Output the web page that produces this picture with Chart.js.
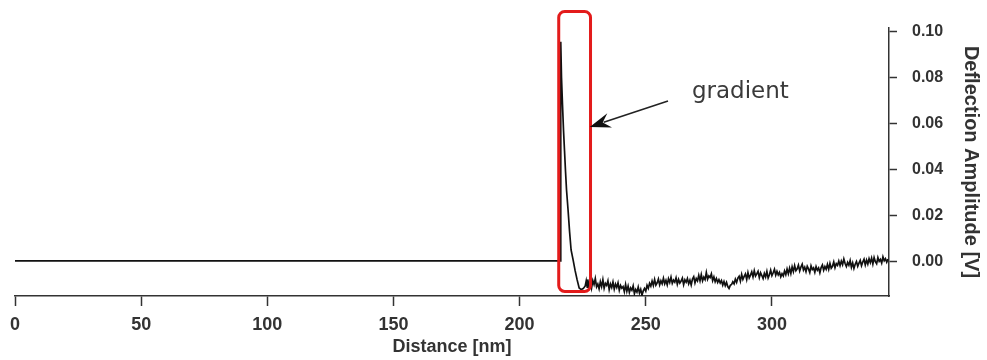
<!DOCTYPE html>
<html>
<head>
<meta charset="utf-8">
<title>Deflection Amplitude</title>
<script src="https://cdn.jsdelivr.net/npm/chart.js@4.4.1/dist/chart.umd.min.js"></script>
<style>
  body { margin: 0; background: #fff; }
  canvas { display: block; }
</style>
</head>
<body>
<canvas id="deflectionChart" width="987" height="360"></canvas>
<script>
'use strict';

// distance in nm, deflection in V
const distanceNm = [
  0, 216.2, 216.3, 216.6, 217.0, 217.4, 217.8, 218.2, 218.6, 219.2, 219.8,
  220.4, 221.2, 222.0, 222.8, 223.6, 224.4, 225.2, 226.0, 226.4, 226.8,
  227, 227.5, 228, 228.5, 229, 229.5, 230, 230.5, 231, 231.5,
  232, 232.5, 233, 233.5, 234, 234.5, 235, 235.5, 236, 236.5,
  237, 237.5, 238, 238.5, 239, 239.5, 240, 240.5, 241, 241.5,
  242, 242.5, 243, 243.5, 244, 244.5, 245, 245.5, 246, 246.5,
  247, 247.5, 248, 248.5, 249, 249.5, 250, 250.5, 251, 251.5,
  252, 252.5, 253, 253.5, 254, 254.5, 255, 255.5, 256, 256.5,
  257, 257.5, 258, 258.5, 259, 259.5, 260, 260.5, 261, 261.5,
  262, 262.5, 263, 263.5, 264, 264.5, 265, 265.5, 266, 266.5,
  267, 267.5, 268, 268.5, 269, 269.5, 270, 270.5, 271, 271.5,
  272, 272.5, 273, 273.5, 274, 274.5, 275, 275.5, 276, 276.5,
  277, 277.5, 278, 278.5, 279, 279.5, 280, 280.5, 281, 281.5,
  282, 282.5, 283, 283.5, 284, 284.5, 285, 285.5, 286, 286.5,
  287, 287.5, 288, 288.5, 289, 289.5, 290, 290.5, 291, 291.5,
  292, 292.5, 293, 293.5, 294, 294.5, 295, 295.5, 296, 296.5,
  297, 297.5, 298, 298.5, 299, 299.5, 300, 300.5, 301, 301.5,
  302, 302.5, 303, 303.5, 304, 304.5, 305, 305.5, 306, 306.5,
  307, 307.5, 308, 308.5, 309, 309.5, 310, 310.5, 311, 311.5,
  312, 312.5, 313, 313.5, 314, 314.5, 315, 315.5, 316, 316.5,
  317, 317.5, 318, 318.5, 319, 319.5, 320, 320.5, 321, 321.5,
  322, 322.5, 323, 323.5, 324, 324.5, 325, 325.5, 326, 326.5,
  327, 327.5, 328, 328.5, 329, 329.5, 330, 330.5, 331, 331.5,
  332, 332.5, 333, 333.5, 334, 334.5, 335, 335.5, 336, 336.5,
  337, 337.5, 338, 338.5, 339, 339.5, 340, 340.5, 341, 341.5,
  342, 342.5, 343, 343.5, 344, 344.5, 345, 345.5, 346
];
const deflectionV = [
  0.0003, 0.0003, 0.0955, 0.0800, 0.0680, 0.0570, 0.0480, 0.0390, 0.0310, 0.0224, 0.0130,
  0.0050, 0.0007, -0.0040, -0.0080, -0.0115, -0.0122, -0.0118, -0.0106, -0.0084, -0.0112,
  -0.0078, -0.0109, -0.0087, -0.0116, -0.0083, -0.0100, -0.0074, -0.0110, -0.0098, -0.0119,
  -0.0088, -0.0109, -0.0079, -0.0116, -0.0095, -0.0104, -0.0084, -0.0122, -0.0098, -0.0113,
  -0.0089, -0.0120, -0.0098, -0.0113, -0.0093, -0.0125, -0.0104, -0.0116, -0.0109, -0.0131,
  -0.0100, -0.0129, -0.0107, -0.0134, -0.0115, -0.0125, -0.0106, -0.0140, -0.0122, -0.0133,
  -0.0111, -0.0137, -0.0121, -0.0146, -0.0128, -0.0117, -0.0129, -0.0104, -0.0117, -0.0095,
  -0.0107, -0.0085, -0.0104, -0.0078, -0.0103, -0.0093, -0.0076, -0.0102, -0.0084, -0.0097,
  -0.0073, -0.0097, -0.0082, -0.0102, -0.0075, -0.0091, -0.0068, -0.0095, -0.0081, -0.0090,
  -0.0071, -0.0099, -0.0078, -0.0094, -0.0085, -0.0072, -0.0101, -0.0080, -0.0090, -0.0074,
  -0.0097, -0.0081, -0.0102, -0.0076, -0.0066, -0.0093, -0.0074, -0.0084, -0.0060, -0.0084,
  -0.0057, -0.0084, -0.0068, -0.0079, -0.0048, -0.0077, -0.0063, -0.0070, -0.0054, -0.0083,
  -0.0067, -0.0088, -0.0074, -0.0091, -0.0079, -0.0093, -0.0083, -0.0103, -0.0087, -0.0105,
  -0.0091, -0.0109, -0.0117, -0.0104, -0.0100, -0.0088, -0.0097, -0.0077, -0.0091, -0.0072,
  -0.0064, -0.0085, -0.0056, -0.0078, -0.0065, -0.0054, -0.0078, -0.0048, -0.0071, -0.0059,
  -0.0045, -0.0067, -0.0040, -0.0063, -0.0054, -0.0043, -0.0070, -0.0049, -0.0061, -0.0074,
  -0.0052, -0.0067, -0.0043, -0.0072, -0.0058, -0.0038, -0.0061, -0.0049, -0.0034, -0.0059,
  -0.0043, -0.0058, -0.0047, -0.0067, -0.0053, -0.0063, -0.0041, -0.0057, -0.0033, -0.0053,
  -0.0029, -0.0052, -0.0023, -0.0044, -0.0018, -0.0040, -0.0032, -0.0016, -0.0041, -0.0024,
  -0.0012, -0.0037, -0.0025, -0.0044, -0.0021, -0.0032, -0.0048, -0.0019, -0.0035, -0.0028,
  -0.0047, -0.0022, -0.0038, -0.0028, -0.0049, -0.0026, -0.0015, -0.0038, -0.0022, -0.0034,
  -0.0013, -0.0034, -0.0008, -0.0029, -0.0021, -0.0002, -0.0027, -0.0009, -0.0017, 0.0002,
  -0.0018, 0.0002, -0.0014, 0.0011, -0.0009, -0.0022, -0.0004, -0.0016, 0.0004, -0.0025,
  -0.0006, -0.0030, -0.0012, 0.0000, -0.0021, -0.0007, 0.0005, -0.0018, -0.0002, 0.0010,
  -0.0015, 0.0006, -0.0011, 0.0012, -0.0005, 0.0015, -0.0011, 0.0017, -0.0001, -0.0010,
  0.0017, 0.0001, 0.0009, -0.0007, 0.0020, 0.0003, 0.0012, -0.0003, 0.0010
];

const xTicks = [0, 50, 100, 150, 200, 250, 300];
const yTicks = [0.00, 0.02, 0.04, 0.06, 0.08, 0.10];

// annotation: red box around the steep part, arrow + label
const boxNm = [215.5, 228.1];
const boxV = [0.1087, -0.0130];
const arrowFrom = [258.8, 0.0698];
const arrowTo = [227.8, 0.0585];
const noteAt = [268.3, 0.0711];
const noteText = 'gradient';

const axisColor = '#333';
const textFont = "'Liberation Sans', Arial, sans-serif";

const annotationPlugin = {
  id: 'gradientNote',
  afterDatasetsDraw(chart) {
    const ctx = chart.ctx;
    const sx = chart.scales.x;
    const sy = chart.scales.y;
    ctx.save();

    // red rounded box
    const x1 = sx.getPixelForValue(boxNm[0]);
    const x2 = sx.getPixelForValue(boxNm[1]);
    const y1 = sy.getPixelForValue(boxV[0]);
    const y2 = sy.getPixelForValue(boxV[1]);
    ctx.strokeStyle = '#e31b1b';
    ctx.lineWidth = 3;
    ctx.beginPath();
    ctx.roundRect(x1, y1, x2 - x1, y2 - y1, 6);
    ctx.stroke();

    // arrow
    const ax = sx.getPixelForValue(arrowFrom[0]);
    const ay = sy.getPixelForValue(arrowFrom[1]);
    const bx = sx.getPixelForValue(arrowTo[0]);
    const by = sy.getPixelForValue(arrowTo[1]);
    const ang = Math.atan2(by - ay, bx - ax);
    const headLen = 21;
    const headHalf = 7.5;
    const cos = Math.cos(ang);
    const sin = Math.sin(ang);
    ctx.strokeStyle = '#222';
    ctx.fillStyle = '#111';
    ctx.lineWidth = 1.6;
    ctx.beginPath();
    ctx.moveTo(ax, ay);
    ctx.lineTo(bx - cos * headLen * 0.7, by - sin * headLen * 0.7);
    ctx.stroke();
    ctx.beginPath();
    ctx.moveTo(bx, by);
    ctx.lineTo(bx - cos * headLen + sin * headHalf, by - sin * headLen - cos * headHalf);
    ctx.lineTo(bx - cos * headLen * 0.65, by - sin * headLen * 0.65);
    ctx.lineTo(bx - cos * headLen - sin * headHalf, by - sin * headLen + cos * headHalf);
    ctx.closePath();
    ctx.fill();

    // label
    ctx.fillStyle = '#3a3a3a';
    ctx.font = "23px 'DejaVu Sans', sans-serif";
    ctx.textAlign = 'left';
    ctx.textBaseline = 'alphabetic';
    ctx.fillText(noteText, sx.getPixelForValue(noteAt[0]), sy.getPixelForValue(noteAt[1]));
    ctx.restore();
  }
};

function displayChart() {
  const points = distanceNm.map((d, i) => ({ x: d, y: deflectionV[i] }));

  const chartGraphics = {
    type: 'line',
    data: {
      datasets: [{
        label: 'Deflection Amplitude',
        data: points,
        borderColor: '#111',
        borderWidth: 1.7,
        pointRadius: 0,
        tension: 0,
        fill: false
      }]
    },
    options: {
      responsive: false,
      animation: false,
      layout: {
        padding: { left: 15, top: 28, right: 0, bottom: 0 }
      },
      plugins: {
        legend: { display: false },
        tooltip: { enabled: false }
      },
      scales: {
        x: {
          type: 'linear',
          min: 0,
          max: 346.4,
          afterBuildTicks: (scale) => {
            scale.ticks = xTicks.map(v => ({ value: v }));
          },
          afterFit: (scale) => {
            scale.height = 64;
          },
          border: { display: true, color: axisColor, width: 1.5 },
          grid: {
            drawOnChartArea: false,
            drawTicks: true,
            tickLength: 10,
            tickColor: axisColor,
            tickWidth: 1.5
          },
          ticks: {
            color: axisColor,
            padding: 8,
            maxRotation: 0,
            font: { family: textFont, size: 18, weight: 'bold' }
          },
          title: {
            display: true,
            text: 'Distance [nm]',
            color: axisColor,
            padding: { top: 0, bottom: 2 },
            font: { family: textFont, size: 18, weight: 'bold' }
          }
        },
        y: {
          type: 'linear',
          position: 'right',
          min: -0.015,
          max: 0.1015,
          afterBuildTicks: (scale) => {
            scale.ticks = yTicks.map(v => ({ value: v }));
          },
          afterFit: (scale) => {
            scale.width = 98;
          },
          border: { display: true, color: axisColor, width: 1.5 },
          grid: {
            drawOnChartArea: false,
            drawTicks: true,
            tickLength: 8,
            tickColor: axisColor,
            tickWidth: 1.5
          },
          ticks: {
            color: axisColor,
            padding: 15,
            callback: (v) => Number(v).toFixed(2),
            font: { family: textFont, size: 16, weight: 'bold' }
          },
          title: {
            display: true,
            text: 'Deflection Amplitude [V]',
            color: axisColor,
            padding: { top: 4, bottom: 4 },
            font: { family: textFont, size: 20, weight: 'bold' }
          }
        }
      }
    },
    plugins: [annotationPlugin]
  };

  const canvasChart = document.getElementById('deflectionChart').getContext('2d');
  const myChart = new Chart(canvasChart, chartGraphics);
}

displayChart();
</script>
</body>
</html>
